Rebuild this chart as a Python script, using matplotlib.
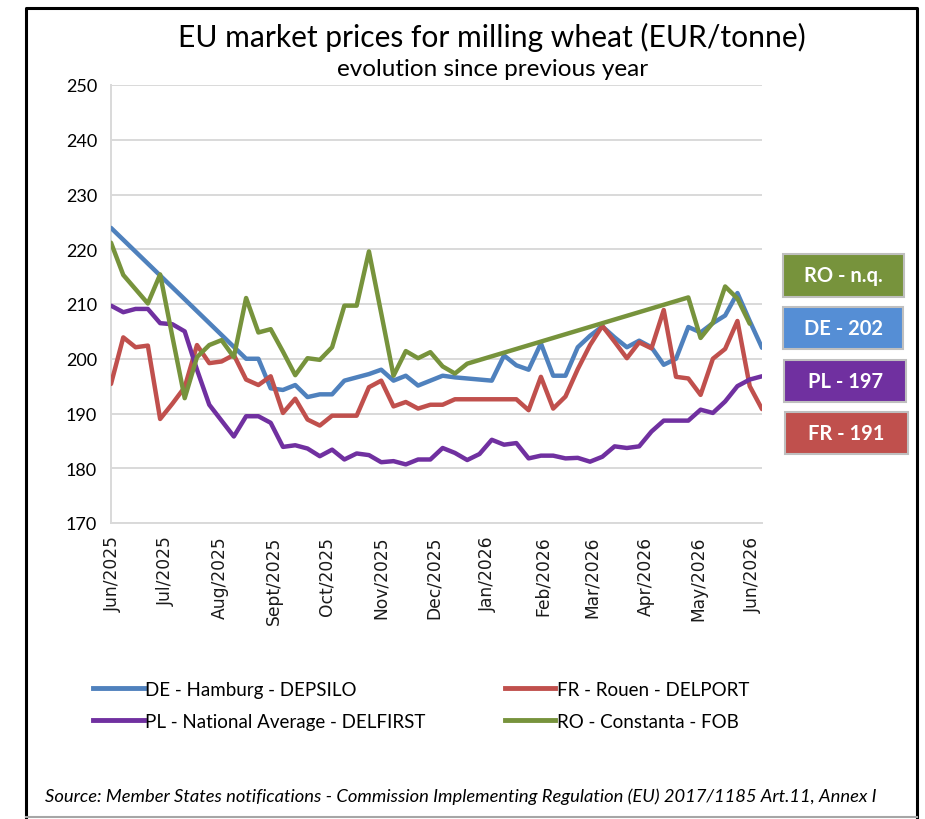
import numpy as np
import pandas as pd
import matplotlib
matplotlib.use('Agg')
import matplotlib.pyplot as plt
from matplotlib.lines import Line2D
from matplotlib.patches import Rectangle

nan = np.nan

# weekly quotations, EUR/tonne (nan = no quotation that week)
weeks = pd.date_range('2025-05-31', periods=54, freq='7D')

de_hamburg = [223.9, nan, nan, nan, nan, nan, nan, nan, nan, nan,
              nan, 200.0, 200.0, 194.6, 194.3, 195.2, 193.0, 193.5, 193.5, 196.0,
              196.6, 197.2, 198.0, 196.0, 196.9, 195.1, 196.0, 196.9, 196.6, 196.4,
              196.2, 196.0, 200.6, 198.8, 198.0, 202.8, 196.9, 196.9, 202.1, 204.2,
              205.9, 203.9, 202.1, 203.3, 202.1, 198.9, 200.0, 205.8, 204.8, 206.5,
              207.9, 212.0, 206.9, 202.0]

fr_rouen = [195.4, 203.9, 202.1, 202.4, 189.0, 191.8, 194.8, 202.5, 199.2, 199.5,
            200.7, 196.2, 195.2, 196.8, 190.1, 192.7, 188.9, 187.8, 189.6, 189.6,
            189.6, 194.8, 196.0, 191.3, 192.1, 190.9, 191.6, 191.6, 192.6, 192.6,
            192.6, 192.6, 192.6, 192.6, 190.6, 196.7, 190.9, 193.1, 198.1, 202.5,
            206.0, 203.1, 200.1, 203.0, 201.9, 208.9, 196.7, 196.4, 193.4, 200.0,
            201.8, 206.9, 195.0, 190.8]

pl_national = [209.7, 208.5, 209.1, 209.1, 206.5, 206.3, 205.0, 198.0, 191.6, 188.7,
               185.8, 189.5, 189.5, 188.3, 183.9, 184.2, 183.6, 182.2, 183.4, 181.6,
               182.7, 182.4, 181.1, 181.3, 180.7, 181.6, 181.6, 183.7, 182.8, 181.5,
               182.6, 185.2, 184.3, 184.6, 181.8, 182.3, 182.3, 181.8, 181.9, 181.2,
               182.1, 184.0, 183.7, 184.0, 186.7, 188.7, 188.7, 188.7, 190.7, 190.1,
               192.2, 195.0, 196.2, 196.8]

ro_constanta = [221.2, 215.3, 212.7, 210.1, 215.4, 204.0, 192.8, 200.3, 202.5, 203.4,
                200.3, 211.1, 204.8, 205.4, 201.3, 197.0, 200.1, 199.8, 202.1, 209.7,
                209.7, 219.6, 208.3, 196.9, 201.4, 200.1, 201.2, 198.6, 197.3, 199.1,
                nan, nan, nan, nan, nan, nan, nan, nan, nan, nan,
                nan, nan, nan, nan, nan, nan, nan, 211.2, 203.8, 206.6,
                213.2, 211.0, 206.4, nan]

series_names = ['DE - Hamburg - DEPSILO', 'FR - Rouen - DELPORT',
                'PL - National Average - DELFIRST', 'RO - Constanta - FOB']
series_colors = ['#4F81BD', '#C0504D', '#7030A0', '#77933C']
box_colors = ['#558ED5', '#C0504D', '#7030A0', '#77933C']
box_codes = ['DE', 'FR', 'PL', 'RO']

month_ticks = pd.date_range('2025-06-01', '2026-06-01', freq='MS')
month_labels = ['Jun/2025', 'Jul/2025', 'Aug/2025', 'Sept/2025', 'Oct/2025',
                'Nov/2025', 'Dec/2025', 'Jan/2026', 'Feb/2026', 'Mar/2026',
                'Apr/2026', 'May/2026', 'Jun/2026']

FONT = 'Lato'
W, H = 925, 820

fig = plt.figure(figsize=(W / 100, H / 100), dpi=100)
ax = fig.add_axes([111 / W, 1 - 524 / H, 651 / W, 438 / H])

all_series = [de_hamburg, fr_rouen, pl_national, ro_constanta]
for vals, col in zip(all_series, series_colors):
    v = np.array(vals, dtype=float)
    ok = ~np.isnan(v)
    # gaps are bridged, like a spreadsheet chart connecting empty cells
    ax.plot(weeks[ok], v[ok], color=col, lw=3.2,
            solid_joinstyle='round', solid_capstyle='round', zorder=3)

ax.set_xlim(weeks[0], weeks[-1])
ax.set_ylim(170, 250)
ax.set_yticks(np.arange(170, 251, 10))
ax.grid(axis='y', color='#D9D9D9', lw=1.4)
ax.set_axisbelow(True)
for s in ['top', 'right']:
    ax.spines[s].set_visible(False)
ax.spines['left'].set_color('#D9D9D9')
ax.spines['left'].set_linewidth(1.4)
ax.spines['bottom'].set_color('#D9D9D9')
ax.spines['bottom'].set_linewidth(1.4)
ax.tick_params(length=0)
ax.tick_params(axis='y', pad=10)
ax.tick_params(axis='x', pad=9)
for lab in ax.get_yticklabels():
    lab.set_fontfamily(FONT)
    lab.set_fontsize(13)
ax.set_xticks(month_ticks)
ax.set_xticklabels(month_labels, rotation=90, fontsize=12.3, family='DejaVu Sans',
                   color='#1a1a1a')

# titles
fig.text(492 / W, 1 - 37 / H, 'EU market prices for milling wheat (EUR/tonne)',
         ha='center', va='center', fontsize=21.6, family=FONT)
fig.text(493 / W, 1 - 70 / H, 'evolution since previous year',
         ha='center', va='center', fontsize=17.5, family=FONT)

# legend below the axis
handles = [Line2D([], [], color=c, lw=3.5) for c in series_colors]
order = [0, 2, 1, 3]
fig.legend([handles[i] for i in order], [series_names[i] for i in order],
           ncol=2, loc='upper left', bbox_to_anchor=(76 / W, 1 - 665 / H),
           frameon=False, handlelength=2.7, handletextpad=0.1,
           columnspacing=4.2, labelspacing=0.8,
           prop={'family': FONT, 'size': 13.5})

# latest price boxes on the right
latest = {'DE': de_hamburg[-1], 'FR': fr_rouen[-1], 'PL': pl_national[-1],
          'RO': ro_constanta[-1]}
boxes = [('RO', 783, 255, 121, 43), ('DE', 783, 308, 120, 42),
         ('PL', 784, 361, 122, 42), ('FR', 785, 413, 123, 42)]
for code, x0, y0, bw, bh in boxes:
    val = latest[code]
    txt = f'{code} - n.q.' if np.isnan(val) else f'{code} - {val:.0f}'
    col = box_colors[box_codes.index(code)]
    fig.patches.append(Rectangle((x0 / W, 1 - (y0 + bh) / H), bw / W, bh / H,
                                 transform=fig.transFigure, facecolor=col,
                                 edgecolor='#BFBFBF', lw=1.5))
    fig.text((x0 + bw / 2) / W, 1 - (y0 + bh / 2) / H, txt, ha='center',
             va='center', color='white', fontsize=14.5, fontweight='bold',
             family=FONT)

fig.text(45 / W, 1 - 797 / H,
         'Source: Member States notifications - Commission Implementing '
         'Regulation (EU) 2017/1185 Art.11, Annex I',
         ha='left', va='center', fontsize=13.2, style='italic', family=FONT)

# outer frame
fig.add_artist(Line2D([26 / W, 26 / W, 917 / W, 917 / W],
                      [1 - 819 / H, 1 - 9 / H, 1 - 9 / H, 1 - 819 / H],
                      transform=fig.transFigure, color='black', lw=2.2))
fig.add_artist(Line2D([26 / W, 917 / W], [1 - 818 / H, 1 - 818 / H],
                      transform=fig.transFigure, color='#A6A6A6', lw=1.5))

fig.savefig('out.png', dpi=100)
